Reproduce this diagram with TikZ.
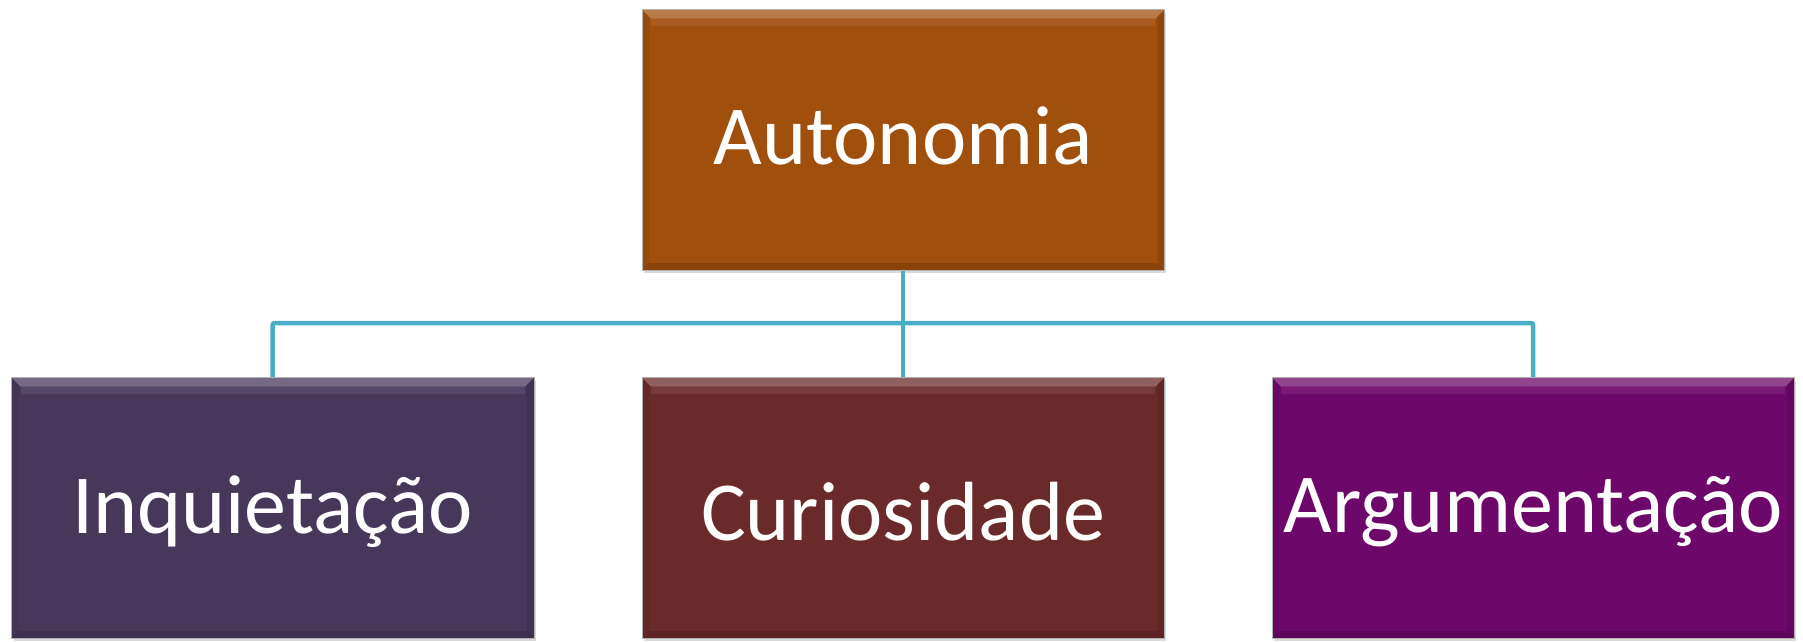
\documentclass[tikz,border=0pt]{standalone}
\usepackage{fontspec}
\setmainfont{Carlito}
\usetikzlibrary{calc,shadows}
\definecolor{cTop}{RGB}{161,79,12}
\definecolor{cLeft}{RGB}{71,56,91}
\definecolor{cMid}{RGB}{107,42,42}
\definecolor{cRight}{RGB}{110,7,106}
\definecolor{cLine}{RGB}{75,172,198}
\tikzset{
  box/.style={minimum width=522pt, minimum height=260pt, inner sep=0pt, anchor=south west,
    text=white, font=\fontsize{84}{100}\selectfont,
    drop shadow={opacity=0.3, shadow xshift=2pt, shadow yshift=-3pt}},
  lbl/.style={text=white, font=\fontsize{84}{100}\selectfont, inner sep=0pt},
  conn/.style={draw=cLine, line width=4.5pt, rounded corners=2pt}
}
\newcommand{\bevelbox}[1]{%
  \fill[white, opacity=0.25] (#1.north west) -- (#1.north east) -- ($(#1.north east)+(-9pt,-9pt)$) -- ($(#1.north west)+(9pt,-9pt)$) -- cycle;
  \fill[white, opacity=0.08] ($(#1.north west)+(9pt,-9pt)$) rectangle ($(#1.north east)+(-9pt,-16pt)$);
  \fill[black, opacity=0.15] (#1.south west) -- (#1.south east) -- ($(#1.south east)+(-7pt,7pt)$) -- ($(#1.south west)+(7pt,7pt)$) -- cycle;
  \fill[black, opacity=0.06] (#1.south west) -- (#1.north west) -- ($(#1.north west)+(7pt,-7pt)$) -- ($(#1.south west)+(7pt,7pt)$) -- cycle;
  \fill[black, opacity=0.1] (#1.south east) -- (#1.north east) -- ($(#1.north east)+(-7pt,-7pt)$) -- ($(#1.south east)+(-7pt,7pt)$) -- cycle;
  \draw[black!30, line width=0.8pt] (#1.south west) rectangle (#1.north east);
}
\begin{document}
\begin{tikzpicture}[x=1pt,y=1pt]
\useasboundingbox (0,0) rectangle (1803,641);
\node[box, fill=cTop] (top) at (642,371) {};
\node[box, fill=cLeft] (left) at (11.5,3) {};
\node[box, fill=cMid] (mid) at (642,3) {};
\node[box, fill=cRight] (right) at (1272,3) {};
\coordinate (bus) at (902.5,318);
\draw[conn] (left.north) |- (bus) -| (right.north);
\draw[conn] (top.south) -- (mid.north);
\bevelbox{top}
\bevelbox{left}
\bevelbox{mid}
\bevelbox{right}
\node[lbl] (ttop) at ($(top.center)+(0,4pt)$) {Autonomia};
\node[lbl] (tleft) at ($(left.center)+(0,-4pt)$) {Inquietação};
\node[lbl] (tmid) at ($(mid.center)+(0,-4pt)$) {Curiosidade};
\node[lbl] (tright) at ($(right.center)+(0,-4pt)$) {Argumentação};
\end{tikzpicture}
\end{document}
